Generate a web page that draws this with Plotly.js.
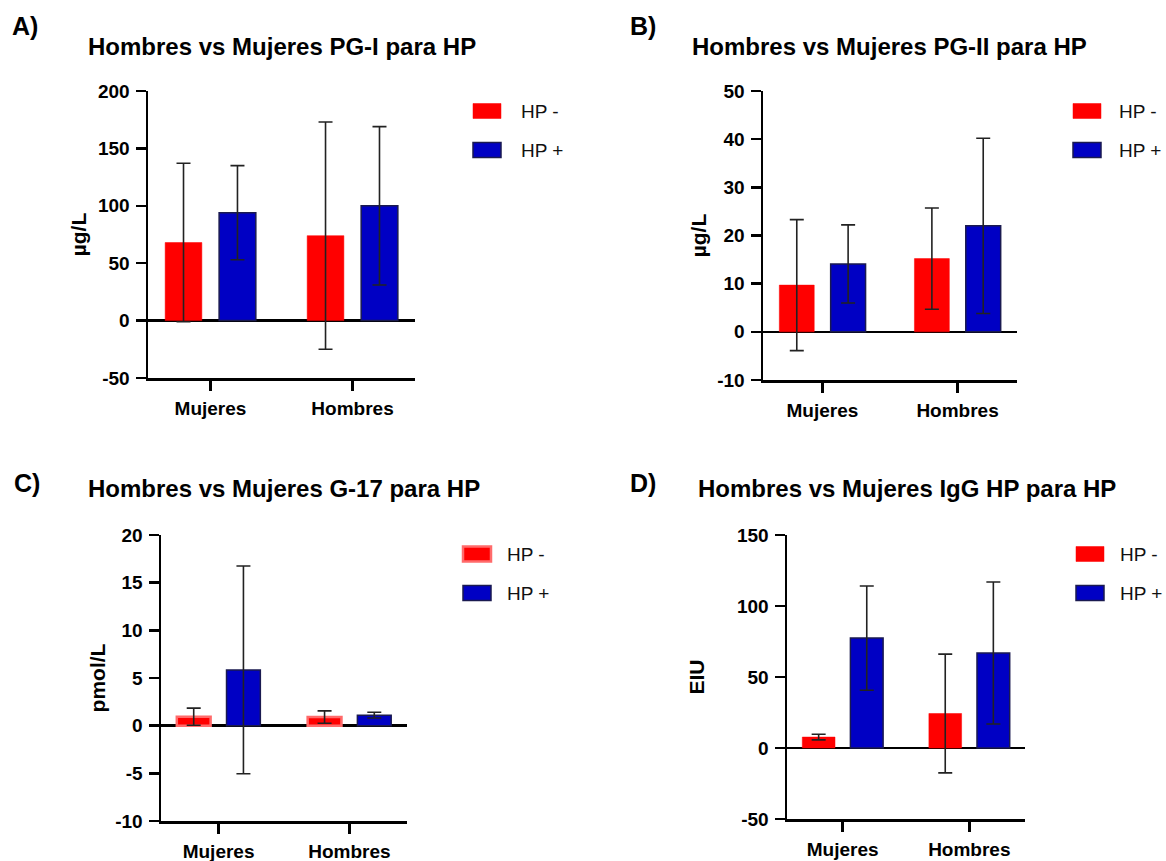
<!DOCTYPE html>
<html>
<head>
<meta charset="utf-8">
<script src="https://cdn.plot.ly/plotly-3.0.1.min.js"></script>
<style>
html,body{margin:0;padding:0;background:#fff;}
#chart{width:1166px;height:861px;}
</style>
</head>
<body>
<div id="chart"></div>
<script>
// ---------- data ----------
const categories = ["Mujeres", "Hombres"];
const seriesNames = ["HP -", "HP +"];

// A) PG-I (µg/L)
const pg1Neg = [68, 74];
const pg1NegSD = [69, 99];
const pg1Pos = [94, 100];
const pg1PosSD = [41, 69];

// B) PG-II (µg/L)
const pg2Neg = [9.7, 15.2];
const pg2NegSD = [13.6, 10.5];
const pg2Pos = [14.1, 22.0];
const pg2PosSD = [8.1, 18.2];

// C) G-17 (pmol/L)
const g17Neg = [0.94, 0.9];
const g17NegSD = [0.9, 0.65];
const g17Pos = [5.85, 1.1];
const g17PosSD = [10.9, 0.3];

// D) IgG HP (EIU)
const iggNeg = [7.7, 24.3];
const iggNegSD = [2.0, 41.8];
const iggPos = [77.4, 66.9];
const iggPosSD = [36.7, 50.0];

// tick values / labels of the four y axes
const ticksA = [-50, 0, 50, 100, 150, 200];
const ticksB = [-10, 0, 10, 20, 30, 40, 50];
const ticksC = [-10, -5, 0, 5, 10, 15, 20];
const ticksD = [-50, 0, 50, 100, 150];

const panelTitles = [
  "Hombres vs Mujeres PG-I para HP",
  "Hombres vs Mujeres PG-II para HP",
  "Hombres vs Mujeres G-17 para HP",
  "Hombres vs Mujeres IgG HP para HP"
];
const panelLetters = ["A)", "B)", "C)", "D)"];
const yTitles = ["µg/L", "µg/L", "pmol/L", "EIU"];
const yTicks = [ticksA, ticksB, ticksC, ticksD];

// ---------- style ----------
const W = 1166, H = 861;
const FONT = "Liberation Sans, Arial, Helvetica, sans-serif";
const RED = "#ff0000";
const BLUE = "#0000c4";
const BLUE_LINE = "#1a1a50";

// plot areas in px: [x0, x1, yTop, yBottom]
const boxes = [
  [148, 415, 91, 378],
  [763, 1017, 91, 380],
  [161, 407, 535, 821],
  [787, 1025, 535, 819]
];
const titleStandoffs = [6, 5, 4, 27];
const titlePos = [[282, 46], [889, 46], [284, 488], [907, 488]];
const letterPos = [[10, 26], [628, 26], [12, 483], [628, 483]];
// legend: swatch left x, text x, red row center y, blue row center y
const legendPos = [
  [473, 519, 111, 150],
  [1073, 1117, 111, 150],
  [463, 505, 554, 593],
  [1076, 1118, 554, 593]
];

const negData = [[pg1Neg, pg1NegSD], [pg2Neg, pg2NegSD], [g17Neg, g17NegSD], [iggNeg, iggNegSD]];
const posData = [[pg1Pos, pg1PosSD], [pg2Pos, pg2PosSD], [g17Pos, g17PosSD], [iggPos, iggPosSD]];

const traces = [];
const layout = {
  width: W, height: H,
  margin: {l: 0, r: 0, t: 0, b: 0},
  paper_bgcolor: "#ffffff",
  plot_bgcolor: "rgba(0,0,0,0)",
  showlegend: false,
  barmode: "group",
  bargap: 0.24,
  bargroupgap: 0.32,
  font: {family: FONT, color: "#000"},
  annotations: [],
  shapes: []
};

function errY(sd) {
  return {type: "data", array: sd, visible: true, color: "#222", thickness: 1.6, width: 7};
}

for (let i = 0; i < 4; i++) {
  const sfx = i === 0 ? "" : String(i + 1);
  const xa = "x" + sfx, ya = "y" + sfx;
  const [x0, x1, yt, yb] = boxes[i];
  const isC = i === 2;
  const tv = yTicks[i];

  traces.push({
    type: "bar", name: seriesNames[0], x: categories, y: negData[i][0],
    xaxis: xa, yaxis: ya,
    marker: {color: RED, line: {color: isC ? "#ff6b6b" : RED, width: isC ? 2.5 : 0.5}},
    error_y: errY(negData[i][1]),
    hoverinfo: "x+y"
  });
  traces.push({
    type: "bar", name: seriesNames[1], x: categories, y: posData[i][0],
    xaxis: xa, yaxis: ya,
    marker: {color: BLUE, line: {color: BLUE_LINE, width: 1.5}},
    error_y: errY(posData[i][1]),
    hoverinfo: "x+y"
  });

  layout["xaxis" + sfx] = {
    domain: [x0 / W, x1 / W],
    anchor: ya,
    type: "category",
    range: [-0.44, 1.44],
    showline: true, linecolor: "#000", linewidth: 2.5,
    ticks: "outside", ticklen: 10, tickwidth: 2.5, tickcolor: "#000",
    showgrid: false, zeroline: false,
    tickfont: {family: FONT, size: 19, weight: "bold", color: "#000"},
    ticklabelstandoff: 2,
    fixedrange: true
  };
  layout["yaxis" + sfx] = {
    domain: [1 - yb / H, 1 - yt / H],
    anchor: xa,
    range: [tv[0], tv[tv.length - 1]],
    tickmode: "array",
    tickvals: tv,
    ticktext: tv.map(v => String(v)),
    showline: true, linecolor: "#000", linewidth: 2.5,
    ticks: "outside", ticklen: 10, tickwidth: 2.5, tickcolor: "#000",
    showgrid: false,
    zeroline: true, zerolinecolor: "#000", zerolinewidth: 2.5,
    tickfont: {family: FONT, size: 19, weight: "bold", color: "#000"},
    ticklabelstandoff: 2,
    title: {text: yTitles[i], standoff: titleStandoffs[i],
            font: {family: FONT, size: 21, weight: "bold", color: "#000"}},
    fixedrange: true
  };

  // panel title
  layout.annotations.push({
    xref: "paper", yref: "paper",
    x: titlePos[i][0] / W, y: 1 - titlePos[i][1] / H,
    xanchor: "center", yanchor: "middle",
    text: panelTitles[i], showarrow: false,
    font: {family: FONT, size: 24, weight: "bold", color: "#000"}
  });
  // panel letter
  layout.annotations.push({
    xref: "paper", yref: "paper",
    x: letterPos[i][0] / W, y: 1 - letterPos[i][1] / H,
    xanchor: "left", yanchor: "middle",
    text: panelLetters[i], showarrow: false,
    font: {family: FONT, size: 25, weight: "bold", color: "#000"}
  });

  // legend (swatches + labels)
  const [lx, tx, ry, by] = legendPos[i];
  const sw = 28, sh = 15;
  const rows = [
    {y: ry, fill: RED, line: isC ? "#ff6b6b" : RED, lw: isC ? 2.5 : 0.5, label: seriesNames[0]},
    {y: by, fill: BLUE, line: BLUE_LINE, lw: 1.5, label: seriesNames[1]}
  ];
  rows.forEach(r => {
    layout.shapes.push({
      type: "rect", xref: "paper", yref: "paper",
      x0: lx / W, x1: (lx + sw) / W,
      y0: 1 - (r.y + sh / 2) / H, y1: 1 - (r.y - sh / 2) / H,
      fillcolor: r.fill, line: {color: r.line, width: r.lw}
    });
    layout.annotations.push({
      xref: "paper", yref: "paper",
      x: tx / W, y: 1 - r.y / H,
      xanchor: "left", yanchor: "middle",
      text: r.label, showarrow: false,
      font: {family: FONT, size: 19, color: "#111"}
    });
  });
}

Plotly.newPlot("chart", traces, layout, {displayModeBar: false, staticPlot: true});
</script>
</body>
</html>
